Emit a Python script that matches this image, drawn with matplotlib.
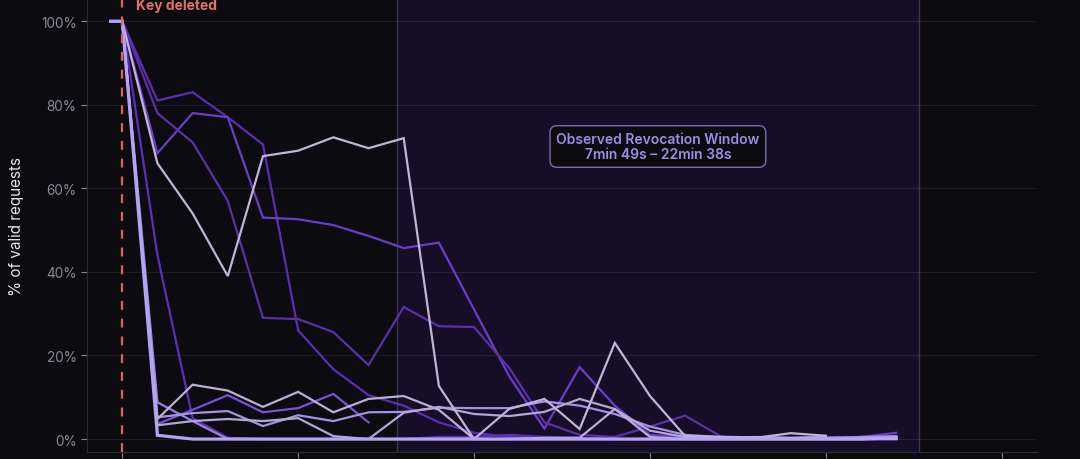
import matplotlib.pyplot as plt
import numpy as np

# minutes after the key was deleted (first sample is 20s before)
minutes = [-0.33] + list(range(0, 23))

# % of valid requests per probe (None = no data)
probe_a = [100, 100, 81, 83, 77, 70.5, 26, 16.7, 10.5, 8, 4, 1.5, 0.5, 0, 0, 0, 0, 0, 0, 0, 0, 0, 0, 0]
probe_b = [100, 100, 68.4, 78, 77, 53, 52.6, 51.2, 48.6, 45.7, 47, 31, 15, 2.5, 17.2, 8, 1, 0.5, 0.3, 0, 0, 0.3, 0.5, 1.5]
probe_c = [100, 100, 78, 71, 57, 29, 28.7, 25.6, 17.7, 31.6, 27, 26.8, 17, 4, 1, 0.5, 3, 5.6, 0.7, 0.3, 0.3, 0.5, 0.3, 0.2]
probe_d = [100, 100, 66, 54, 39, 67.7, 69, 72.2, 69.6, 72, 12.7, 0, 7.2, 9.6, 2.4, 23, 10.3, 0.7, 0.5, 0.3, 1.4, 0.8, None, None]
probe_e = [100, 100, 0.9, 0, 0, 0, 0, 0, 0, 0, 0, 0, 0, 0, 0, 0, 0, 0, 0, 0, 0, 0, 0, 0.3]
probe_f = [100, 100, 44, 5, 0.3, 0, 0, 0, 0, 0, 0.5, 0.5, 1, 0.5, 0.3, 0, 0, 0, 0, 0, 0, 0, 0, 0]
probe_g = [100, 100, 4.8, 13, 11.6, 7.7, 11.3, 6.4, 9.6, 10.3, 7, 0, 0, 0.3, 0.3, 7.2, 0.5, 0, 0, 0, 0, 0, 0, 0]
probe_h = [100, 100, 3.6, 7, 10.5, 6.4, 7.4, 10.8, 4, None, None, None, None, None, None, None, None, None, None, None, None, None, None, None]
probe_i = [100, 100, 8.8, 4.3, 0, 0, 0, 0, 0, 0, 0, 0, 0, 0, 0, 0, 0, 0, 0, 0, 0, 0, 0, 0]
probe_j = [100, 100, 5.2, 6.2, 6.7, 3.1, 5.7, 4.3, 6.4, 6.5, 7.5, 7.4, 7.4, 9, 8, 6, 3, 1, 0.5, 0.3, 0.2, 0.3, 0.5, 0.7]
probe_k = [100, 100, 3.3, 4.3, 4.8, 4.3, 5, 0.7, 0, 6.3, 7.7, 6, 5.5, 6.5, 9.6, 7.2, 2, 0.5, 0.3, 0.5, 0.3, 0.5, None, None]

probes = [probe_a, probe_b, probe_c, probe_f, probe_h, probe_i, probe_j, probe_k, probe_g, probe_d, probe_e]
colors = ['#5b2db5', '#6a3ccc', '#5a30a8', '#5c2fb8', '#7a50d8', '#9a80e0', '#a592e6', '#b2a8d6', '#b9b0d4', '#bfb6d6', '#b4a2f4']
widths = [1.6, 1.6, 1.6, 1.6, 1.6, 1.6, 1.6, 1.6, 1.6, 1.6, 2.3]

window_start = 7 + 49 / 60
window_end = 22 + 38 / 60
y_ticks = [0, 20, 40, 60, 80, 100]
x_ticks = [0, 5, 10, 15, 20, 25]

bg = '#0c0b10'
plt.rcParams['font.family'] = ['Inter', 'DejaVu Sans']

fig = plt.figure(figsize=(10.8, 4.6), dpi=100, facecolor=bg)
ax = fig.add_axes([0.0806, 0.0152, 0.8796, 0.9848])
ax.set_facecolor(bg)

ax.axvspan(window_start, window_end, color='#160e26', zorder=0, lw=0)
for xv in [window_start, window_end]:
    ax.axvline(xv, color='#3a3350', lw=1, zorder=1)

for yv in y_ticks:
    ax.axhline(yv, color='#ffffff', alpha=0.07, lw=0.8, zorder=1)

for vals, c, w in zip(probes, colors, widths):
    y = np.array([np.nan if v is None else v for v in vals], dtype=float)
    ax.plot(minutes, y, color=c, lw=w, zorder=3, solid_joinstyle='miter')

ax.axvline(0, color='#d9665e', lw=1.6, ls=(0, (4, 4)), zorder=4)
ax.text(0.4, 103.9, 'Key deleted', color='#e0706a', fontsize=10, fontweight='bold',
        ha='left', va='center', zorder=5)

ax.text((window_start + window_end) / 2, 70, 'Observed Revocation Window\n7min 49s – 22min 38s',
        color='#a08ce8', fontsize=10, fontweight='semibold', ha='center', va='center',
        linespacing=1.1, zorder=5,
        bbox=dict(boxstyle='round,pad=0.45,rounding_size=0.5', fc=bg, ec='#7a6bb0', lw=1))

ax.set_xlim(-1, 26)
ax.set_ylim(-3.1, 105.3)
ax.set_yticks(y_ticks)
ax.set_yticklabels([f'{v}%' for v in y_ticks])
ax.set_xticks(x_ticks)
ax.set_xticklabels([''] * len(x_ticks))
ax.tick_params(axis='y', colors='#8a8794', labelsize=9.8, length=4, width=0.8)
ax.tick_params(axis='x', colors='#8a8794', length=4, width=0.8)
ax.set_ylabel('% of valid requests', color='#e4e1ea', fontsize=11, labelpad=12)

for s in ['top', 'right']:
    ax.spines[s].set_visible(False)
for s in ['left', 'bottom']:
    ax.spines[s].set_color('#2c2932')
    ax.spines[s].set_linewidth(0.8)

fig.savefig('out.png', dpi=100, facecolor=bg)
